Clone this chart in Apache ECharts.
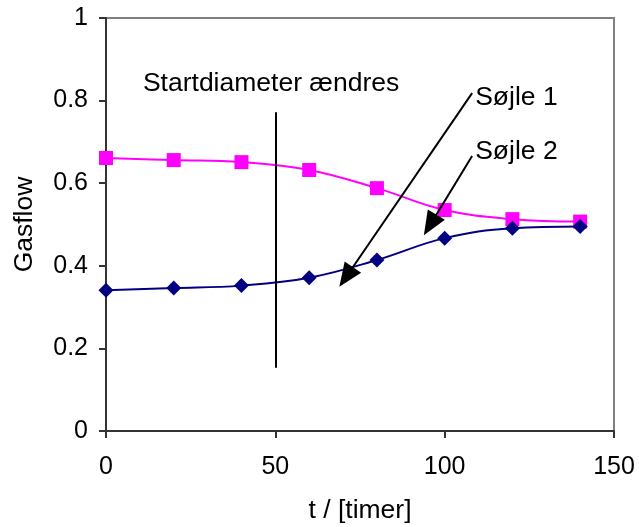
<!DOCTYPE html>
<html>
<head>
<meta charset="utf-8">
<script src="https://cdn.jsdelivr.net/npm/echarts@6/dist/echarts.min.js"></script>
<style>
html,body{margin:0;padding:0;background:#fff;}
#chart{width:639px;height:527px;}
</style>
</head>
<body>
<div id="chart"></div>
<script>
// Data
var timeValues = [0, 20, 40, 60, 80, 100, 120, 140];
var soejle1 = [0.341, 0.346, 0.352, 0.371, 0.414, 0.467, 0.491, 0.495]; // navy diamonds
var soejle2 = [0.661, 0.656, 0.651, 0.632, 0.588, 0.535, 0.513, 0.507]; // magenta squares
var xTicks = [0, 50, 100, 150];
var yTicks = [0, 0.2, 0.4, 0.6, 0.8, 1];

// Annotations (data coordinates)
var vLine = [[50, 0.153], [50, 0.772]];
var arrow1 = [[108.1, 0.818], [70.9, 0.373]];
var arrow2 = [[108.1, 0.666], [95.7, 0.499]];
var texts = [
  {text: 'Startdiameter ændres', at: [10.9, 0.843]},
  {text: 'Søjle 1', at: [109.0, 0.809]},
  {text: 'Søjle 2', at: [109.0, 0.680]}
];

var FONT = '"Liberation Sans", Arial, sans-serif';
var FS = 25;
var FT = 26.5;

function pairs(xs, ys){ return xs.map(function(x,i){ return [x, ys[i]]; }); }

var chart = echarts.init(document.getElementById('chart'));
var option = {
  animation: false,
  backgroundColor: '#fff',
  grid: {left: 106, right: 25, top: 18, bottom: 96, containLabel: false, outerBoundsMode: 'none',
         show: true, borderColor: '#808080', borderWidth: 2},
  xAxis: {
    type: 'value', min: xTicks[0], max: xTicks[xTicks.length-1], interval: 50,
    name: 't / [timer]', nameLocation: 'middle', nameGap: 66,
    nameTextStyle: {fontFamily: FONT, fontSize: FT, color: '#000'},
    axisLine: {lineStyle: {color: '#333', width: 2}},
    axisTick: {show: true, inside: false, length: 7, lineStyle: {color: '#333', width: 2}},
    axisLabel: {fontFamily: FONT, fontSize: FS, color: '#000', margin: 24},
    splitLine: {show: false}
  },
  yAxis: {
    type: 'value', min: yTicks[0], max: yTicks[yTicks.length-1], interval: 0.2,
    name: 'Gasflow', nameLocation: 'middle', nameGap: 68,
    nameTextStyle: {fontFamily: FONT, fontSize: FT, color: '#000'},
    axisLine: {show: true, lineStyle: {color: '#333', width: 2}},
    axisTick: {show: true, inside: false, length: 7, lineStyle: {color: '#333', width: 2}},
    axisLabel: {fontFamily: FONT, fontSize: FS, color: '#000', margin: 18},
    splitLine: {show: false}
  },
  series: [
    {
      name: 'Søjle 1', type: 'line', smooth: 0.4,
      data: pairs(timeValues, soejle1),
      symbol: 'diamond', symbolSize: 15,
      lineStyle: {color: '#000080', width: 2},
      itemStyle: {color: '#000080'},
      z: 3,
      markLine: {
        silent: true, animation: false,
        label: {show: false},
        lineStyle: {color: '#000', width: 2, type: 'solid'},
        data: [
          [{coord: vLine[0], symbol: 'none'}, {coord: vLine[1], symbol: 'none'}],
          [{coord: arrow1[0], symbol: 'none'}, {coord: arrow1[1], symbol: 'triangle', symbolSize: [20, 24]}],
          [{coord: arrow2[0], symbol: 'none'}, {coord: arrow2[1], symbol: 'triangle', symbolSize: [20, 24]}]
        ]
      }
    },
    {
      name: 'Søjle 2', type: 'line', smooth: 0.4,
      data: pairs(timeValues, soejle2),
      symbol: 'rect', symbolSize: 14,
      lineStyle: {color: '#FF00FF', width: 2},
      itemStyle: {color: '#FF00FF'},
      z: 2
    }
  ]
};
chart.setOption(option);

var graphics = texts.map(function(t){
  var p = chart.convertToPixel({gridIndex: 0}, t.at);
  return {
    type: 'text', left: p[0], top: p[1] - FT/2 + 1, silent: true,
    style: {text: t.text, fill: '#000', font: FT + 'px ' + FONT}
  };
});
chart.setOption({graphic: graphics});
</script>
</body>
</html>
